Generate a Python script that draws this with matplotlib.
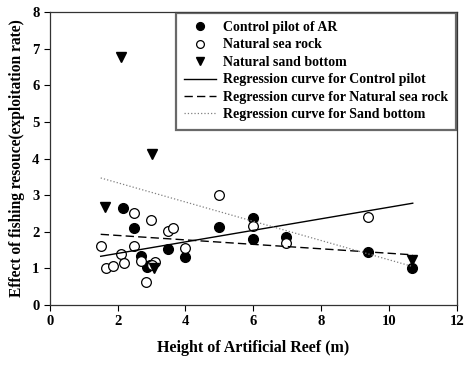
import matplotlib
matplotlib.use("Agg")
import matplotlib.pyplot as plt

plt.rcParams['font.family'] = ['Liberation Serif', 'DejaVu Serif']
plt.rcParams['font.weight'] = 'bold'

# Control pilot of AR (filled circles)
ctrl_x = [2.15, 2.48, 2.68, 2.86, 2.95, 3.48, 3.98, 4.99, 5.99, 5.99, 6.96, 9.38, 10.68]
ctrl_y = [2.65, 2.10, 1.34, 1.04, 1.08, 1.53, 1.31, 2.13, 2.38, 1.80, 1.86, 1.45, 1.01]

# Natural sea rock (open circles)
rock_x = [1.50, 1.65, 1.85, 2.10, 2.18, 2.48, 2.48, 2.68, 2.98, 2.83, 3.10, 3.00,
          3.48, 3.63, 3.98, 4.99, 5.99, 6.96, 9.38]
rock_y = [1.60, 1.00, 1.07, 1.39, 1.15, 2.52, 1.61, 1.20, 2.32, 0.63, 1.18, 1.10,
          2.02, 2.10, 1.56, 3.00, 2.16, 1.69, 2.40]

# Natural sand bottom (filled triangles)
sand_x = [2.10, 3.00, 1.62, 3.07, 10.68]
sand_y = [6.78, 4.12, 2.68, 1.00, 1.23]

# regression curves (endpoints)
reg_x = [1.5, 10.7]
ctrl_reg = [1.33, 2.78]
rock_reg = [1.93, 1.37]
sand_reg = [3.47, 1.05]

fig = plt.figure(figsize=(4.7, 3.67), dpi=100)
ax = fig.add_axes([0.106, 0.169, 0.866, 0.798])

ax.plot(ctrl_x, ctrl_y, 'o', color='black', markersize=7, label='Control pilot of AR')
ax.plot(rock_x, rock_y, 'o', markerfacecolor='white', markeredgecolor='black',
        markeredgewidth=0.9, markersize=7, label='Natural sea rock')
ax.plot(sand_x, sand_y, 'v', color='black', markersize=7, label='Natural sand bottom')
ax.plot(reg_x, ctrl_reg, '-', color='black', linewidth=1.0, label='Regression curve for Control pilot')
ax.plot(reg_x, rock_reg, '--', color='black', linewidth=1.0, dashes=(6, 3),
        label='Regression curve for Natural sea rock')
ax.plot(reg_x, sand_reg, ':', color='gray', linewidth=0.9, label='Regression curve for Sand bottom')

ax.set_xlim(0, 12)
ax.set_ylim(0, 8)
ax.set_xticks(range(0, 13, 2))
ax.set_yticks(range(0, 9))
ax.tick_params(direction='out', length=4, width=0.8, labelsize=10.5, top=False, right=False)
for lbl in ax.get_xticklabels() + ax.get_yticklabels():
    lbl.set_fontweight('bold')
for sp in ax.spines.values():
    sp.set_linewidth(0.9)
    sp.set_color('#333333')

ax.set_xlabel('Height of Artificial Reef (m)', fontsize=11.5, fontweight='bold', labelpad=8)
ax.set_ylabel('Effect of fishing resouce(exploitation rate)', fontsize=11.2, fontweight='bold', labelpad=5)

leg = ax.legend(loc='upper right', bbox_to_anchor=(0.999, 0.998), borderaxespad=0.0,
                frameon=True, fancybox=False, edgecolor='#444444', handlelength=2.3,
                borderpad=0.6, labelspacing=0.32, handletextpad=0.5, markerscale=0.8,
                prop={'weight': 'bold', 'size': 10})
leg.get_frame().set_linewidth(1.6)

fig.savefig('out.png', dpi=100)
